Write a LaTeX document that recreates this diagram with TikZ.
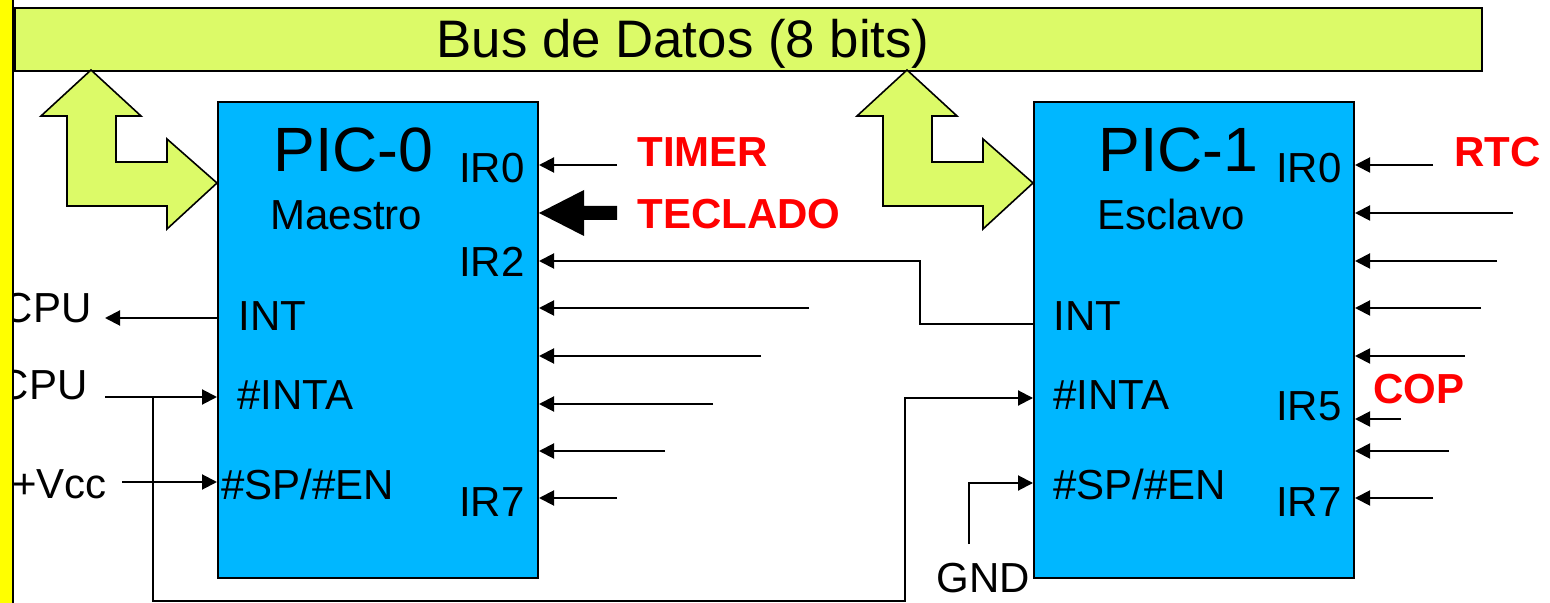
\documentclass[tikz,border=0pt]{standalone}
\usepackage{fontspec}
\setmainfont{Liberation Sans}
\usetikzlibrary{arrows.meta}
\usetikzlibrary{calc}
\definecolor{busgreen}{RGB}{220,250,104}
\definecolor{chipblue}{RGB}{0,183,255}
\definecolor{sideyellow}{RGB}{255,255,0}
\tikzset{
	chip/.style={draw, line width=1pt, fill=chipblue, anchor=north west, minimum width=160pt, minimum height=238pt, inner sep=0pt},
	pin/.style={line width=1pt, -{Triangle[length=7.5pt,width=7.5pt]}},
	wire/.style={line width=1pt},
	lbl/.style={font=\fontsize{21pt}{25pt}\selectfont, inner sep=0pt},
	title/.style={font=\fontsize{31.3pt}{36pt}\selectfont, inner sep=0pt},
	src/.style={font=\fontsize{21pt}{25pt}\selectfont\bfseries, text=red, inner sep=0pt},
	busarrow/.style={draw, line width=0.8pt, fill=busgreen, line join=miter}
}

\begin{document}
\begin{tikzpicture}[x=0.5pt, y=-0.5pt]
		\useasboundingbox (0,0) rectangle (1550,603);
		\node[draw, line width=1pt, fill=busgreen, anchor=north west, minimum width=733.5pt, minimum height=31.5pt, inner sep=0pt] (bus) at (14,7) {};
		\node[lbl, font=\fontsize{26.4pt}{30pt}\selectfont, anchor=base] (bustext) at (683,58) {Bus de Datos (8 bits)};
		
		\foreach \dx in {0,816} {
			\begin{scope}[shift={(\dx,0)}]
				\draw[busarrow] (91,70) -- (141,116) -- (116,116) -- (116,162) -- (167,162) -- (167,139) -- (217,183) -- (167,229) -- (167,206) -- (67,206) -- (67,116) -- (41,116) -- cycle;
			\end{scope}
		}
		
		\node[chip] (pic0) at (217,101) {};
		\node[chip] (pic1) at (1033,101) {};
		
		\node[title, anchor=base west] (name0) at (273,172) {PIC-0};
		\node[lbl, anchor=base west] (role0) at (270,230) {Maestro};
		\node[lbl, anchor=base east] (ir00) at (525,183) {IR0};
		\node[lbl, anchor=base east] (ir02) at (525,277) {IR2};
		\node[lbl, anchor=base east] (ir07) at (525,516) {IR7};
		\node[lbl, anchor=base west] (int0) at (238,331) {INT};
		\node[lbl, anchor=base west] (inta0) at (237,409) {\#INTA};
		\node[lbl, anchor=base west] (sp0) at (221,499) {\#SP/\#EN};
		
		\node[title, anchor=base west] (name1) at (1098,172) {PIC-1};
		\node[lbl, anchor=base west] (role1) at (1097,230) {Esclavo};
		\node[lbl, anchor=base east] (ir10) at (1342,183) {IR0};
		\node[lbl, anchor=base east] (ir15) at (1342,421) {IR5};
		\node[lbl, anchor=base east] (ir17) at (1342,516) {IR7};
		\node[lbl, anchor=base west] (int1) at (1053,331) {INT};
		\node[lbl, anchor=base west] (inta1) at (1053,409) {\#INTA};
		\node[lbl, anchor=base west] (sp1) at (1053,499) {\#SP/\#EN};
		
		\node[src, anchor=base west] (timer) at (637,167) {TIMER};
		\node[src, anchor=base west] (teclado) at (637,229) {TECLADO};
		\node[src, anchor=base west] (rtc) at (1454,167) {RTC};
		\node[src, anchor=base west] (cop) at (1373,404) {COP};
		
		\node[lbl, anchor=base east] (cpuout) at (92,323) {CPU};
		\node[lbl, anchor=base east] (cpuin) at (88,400) {CPU};
		\node[lbl, anchor=base east] (vcc) at (107,498) {+Vcc};
		\node[lbl, anchor=base] (gnd) at (983,592) {GND};
		
		\foreach \i/\y/\x in {0/165/617, 3/308/809, 4/356/761, 5/404/713, 6/451/665, 7/498/617} {
			\coordinate (s0\i) at (\x,\y);
			\draw[pin] (s0\i) -- (s0\i -| pic0.east);
		}
		\foreach \i/\y/\x in {0/165/1433, 1/213/1513, 2/261/1497, 3/308/1481, 4/356/1465, 5/419/1401, 6/451/1449, 7/498/1433} {
			\coordinate (s1\i) at (\x,\y);
			\draw[pin] (s1\i) -- (s1\i -| pic1.east);
		}
		\fill (pic0.east |- 0,213) -- (584,190) -- (584,206) -- (617,206) -- (617,220) -- (584,220) -- (584,236) -- cycle;
		
		\draw[pin] (pic1.west |- 0,324) -| (920,261) -- (pic0.east |- 0,261);
		
		\coordinate (cpuint) at (105,318);
		\coordinate (cpuinta) at (105,397);
		\coordinate (vccpin) at (122,482);
		\coordinate (gndpin) at (969,544);
		\draw[pin] (pic0.west |- cpuint) -- (cpuint);
		\draw[pin] (cpuinta) -- (cpuinta -| pic0.west);
		\draw[pin] (153,397) -- (153,601) -| (905,398) -- (pic1.west |- 0,398);
		\draw[pin] (vccpin) -- (vccpin -| pic0.west);
		\draw[pin] (gndpin) |- (pic1.west |- 0,483);
		
		\fill[sideyellow] (0,0) rectangle (13,603);
		\draw[line width=1.2pt] (13,0) -- (13,603);
	\end{tikzpicture}
\end{document}
